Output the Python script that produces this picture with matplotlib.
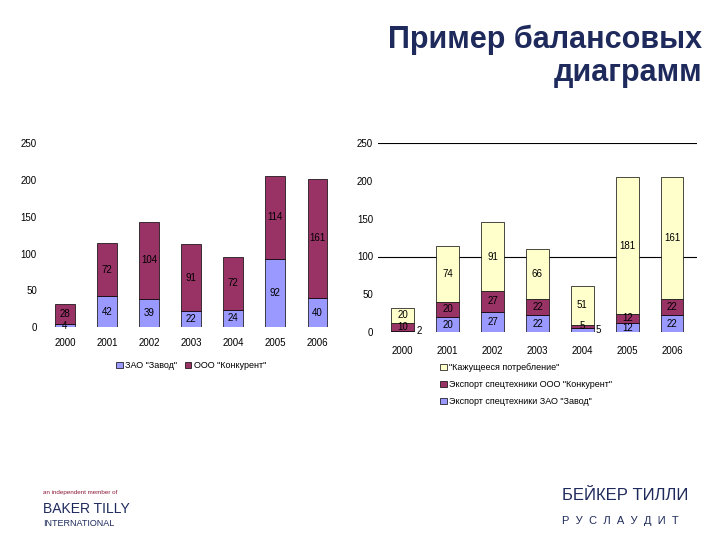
import matplotlib
matplotlib.use("Agg")
import matplotlib.pyplot as plt
import numpy as np

years = ["2000", "2001", "2002", "2003", "2004", "2005", "2006"]
left_zavod = [4, 42, 39, 22, 24, 92, 40]
left_konk = [28, 72, 104, 91, 72, 114, 161]
right_zavod = [2, 20, 27, 22, 5, 12, 22]
right_konk = [10, 20, 27, 22, 5, 12, 22]
right_cons = [20, 74, 91, 66, 51, 181, 161]

BLUE, MAROON, YELLOW = "#9999FF", "#993366", "#FFFFCC"
plt.rcParams['font.family'] = ['Liberation Sans', 'DejaVu Sans']

fig = plt.figure(figsize=(7.2, 5.4), dpi=100)
fig.text(0.975, 0.955, "Пример балансовых\nдиаграмм", ha="right", va="top",
         fontsize=22, fontweight="bold", color="#1F2A5C", linespacing=1.15)

x = np.arange(len(years))

def style(ax):
    for s in ax.spines.values():
        s.set_visible(False)
    ax.tick_params(length=0, labelsize=7)
    ax.set_ylim(0, 250)
    ax.set_yticks([0, 50, 100, 150, 200, 250])
    ax.set_xticks(x)
    ax.set_xticklabels(years)
    ax.set_xlim(-0.55, 6.55)

# left chart
axl = fig.add_axes([0.058, 0.394, 0.415, 0.341])
style(axl)
b1 = axl.bar(x, left_zavod, 0.47, color=BLUE, edgecolor="black", linewidth=0.5, label='ЗАО "Завод"')
b2 = axl.bar(x, left_konk, 0.47, bottom=left_zavod, color=MAROON, edgecolor="black", linewidth=0.5, label='ООО "Конкурент"')
for i in range(len(years)):
    axl.text(x[i], left_zavod[i] / 2, str(left_zavod[i]), ha="center", va="center", fontsize=7)
    axl.text(x[i], left_zavod[i] + left_konk[i] / 2, str(left_konk[i]), ha="center", va="center", fontsize=7)
axl.tick_params(axis="x", pad=8)
axl.legend(loc="upper center", bbox_to_anchor=(0.5, -0.14), ncol=2, frameon=False,
           fontsize=6.5, handlelength=0.7, handleheight=0.7, columnspacing=0.8, handletextpad=0.3)

# right chart
axr = fig.add_axes([0.525, 0.385, 0.443, 0.35])
style(axr)
for yv in (100, 250):
    axr.axhline(yv, color="black", linewidth=0.8, zorder=0)
r1 = axr.bar(x, right_zavod, 0.5, color=BLUE, edgecolor="black", linewidth=0.5, label='Экспорт спецтехники ЗАО "Завод"')
bot2 = np.array(right_zavod)
r2 = axr.bar(x, right_konk, 0.5, bottom=bot2, color=MAROON, edgecolor="black", linewidth=0.5, label='Экспорт спецтехники ООО "Конкурент"')
bot3 = bot2 + np.array(right_konk)
r3 = axr.bar(x, right_cons, 0.5, bottom=bot3, color=YELLOW, edgecolor="black", linewidth=0.5, label='"Кажущееся потребление"')
for i in range(len(years)):
    if right_zavod[i] < 8:
        axr.text(x[i] + 0.3, right_zavod[i] / 2, str(right_zavod[i]), ha="left", va="center", fontsize=7)
    else:
        axr.text(x[i], right_zavod[i] / 2, str(right_zavod[i]), ha="center", va="center", fontsize=7)
    axr.text(x[i], bot2[i] + right_konk[i] / 2, str(right_konk[i]), ha="center", va="center", fontsize=7)
    axr.text(x[i], bot3[i] + right_cons[i] / 2, str(right_cons[i]), ha="center", va="center", fontsize=7)
axr.tick_params(axis="x", pad=10)
axr.legend(handles=[r3, r2, r1], loc="upper left", bbox_to_anchor=(0.17, -0.12), frameon=False,
           fontsize=6.5, handlelength=0.7, handleheight=0.7, handletextpad=0.3, labelspacing=0.9)

# logos text
fig.text(0.06, 0.085, "an independent member of", fontsize=4.5, color="#8B1A3A")
fig.text(0.06, 0.05, "BAKER TILLY", fontsize=10, color="#1F2A5C")
fig.text(0.06, 0.025, "INTERNATIONAL", fontsize=6.5, color="#1F2A5C")
fig.text(0.78, 0.075, "БЕЙКЕР ТИЛЛИ", fontsize=12, color="#1F2A5C")
fig.text(0.78, 0.03, "Р  У  С  Л  А  У  Д  И  Т", fontsize=8, color="#1F2A5C")

fig.savefig("out.png", dpi=100)
